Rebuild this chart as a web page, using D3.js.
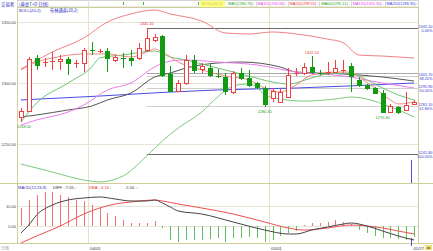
<!DOCTYPE html>
<html><head><meta charset="utf-8">
<script src="https://cdn.jsdelivr.net/npm/d3@7"></script>
<style>
html,body{margin:0;padding:0;background:#fff;overflow:hidden}
svg{display:block}
text{font-family:"Liberation Sans","DejaVu Sans",Arial,sans-serif}
.cjk{font-family:"Noto Sans CJK SC","Liberation Sans",sans-serif}
</style>
</head><body>
<svg id="c" width="433" height="251"></svg>
<script>
// ---------------- data ----------------
const opens  = [1272.1,1277.0,1320.5,1316.4,1317.6,1318.0,1319.7,1316.2,1316.4,1327.2,1326.0,1326.2,1318.9,1320.7,1320.5,1320.5,1327.0,1335.2,1338.5,1307.4,1293.4,1300.0,1318.9,1311.5,1312.3,1305.9,1304.9,1292.6,1308.2,1304.1,1300.0,1295.9,1287.7,1284.4,1288.5,1308.0,1308.2,1313.1,1308.4,1308.8,1309.0,1310.5,1313.9,1302.5,1298.4,1295.9,1291.8,1276.2,1280.3,1277.9,1282.8];
const highs  = [1279.5,1321.3,1323.0,1320.5,1325.4,1323.0,1321.3,1318.9,1328.7,1333.6,1327.9,1328.7,1323.0,1324.6,1327.0,1332.8,1345.1,1340.2,1339.3,1313.9,1302.5,1323.0,1323.0,1316.4,1316.4,1311.5,1308.2,1309.8,1312.3,1310.7,1300.8,1297.5,1295.9,1295.9,1312.3,1312.3,1316.4,1322.1,1310.7,1317.2,1318.9,1318.9,1316.4,1304.9,1299.2,1296.7,1294.3,1282.8,1281.1,1292.6,1286.1];
const lows   = [1268.0,1276.2,1310.7,1313.1,1310.7,1310.7,1306.6,1312.3,1309.0,1323.0,1324.6,1309.0,1317.2,1312.3,1313.9,1318.9,1325.4,1333.6,1304.9,1293.0,1293.0,1298.4,1308.2,1308.2,1304.9,1304.1,1290.2,1291.0,1302.5,1296.7,1295.1,1280.3,1284.4,1283.6,1287.7,1305.7,1306.6,1307.4,1306.6,1306.6,1308.2,1308.2,1292.6,1296.7,1294.3,1291.0,1275.4,1275.4,1274.6,1277.0,1282.0];
const closes = [1277.0,1319.7,1314.8,1317.2,1318.0,1319.7,1316.4,1316.4,1327.0,1326.8,1326.4,1320.5,1321.3,1320.3,1318.9,1328.7,1336.9,1337.7,1306.6,1293.4,1300.0,1318.9,1310.7,1313.9,1306.6,1305.5,1293.4,1308.2,1304.1,1298.4,1296.7,1282.8,1293.4,1292.6,1306.6,1308.2,1313.1,1309.0,1308.0,1309.0,1312.3,1310.7,1305.7,1298.4,1295.9,1291.8,1276.2,1281.1,1276.2,1282.0,1284.4];

// overlay lines (candle index, price)
const upperIdx = [0,4,8,11,14,17,19,23,26,29,32,35,39,41,43,46,50];
const upperVal = [1311.5,1325.4,1336.9,1350.0,1356.6,1359.8,1356.6,1350.8,1341.0,1340.2,1341.8,1340.2,1336.0,1333.0,1322.9,1322.1,1320.5];
const lowerIdx = [0,4,8,10,13,16,18,20,23,25,27,29,30,31,33,36,40,42,44,46,48,50];
const lowerVal = [1233.6,1227.0,1220.5,1218.9,1223.8,1240.2,1252.5,1263.1,1276.2,1288.5,1297.5,1299.2,1296.7,1290.2,1286.9,1285.2,1286.9,1288.5,1286.9,1282.8,1277.9,1272.1];
const redIdx = [0,2,4,8,11,14,16,17,18,20,23,26,29,31,33,35,37,40,42,43,45,47,48,50];
const redVal = [1310.7,1317.2,1320.5,1323.8,1323.8,1321.3,1325.4,1327.9,1325.4,1317.2,1310.7,1305.7,1302.5,1295.9,1292.6,1298.4,1306.6,1309.0,1309.0,1304.9,1295.9,1286.1,1282.8,1284.4];
const greenIdx = [0,2,6,9,10,13,17,19,21,24,27,29,32,34,37,39,42,44,46,48,50];
const greenVal = [1268.0,1283.6,1300.0,1313.1,1320.5,1323.0,1326.2,1321.3,1318.9,1313.9,1309.0,1305.7,1300.8,1299.2,1304.1,1307.4,1308.2,1302.5,1295.9,1290.2,1286.1];
const magentaIdx = [0,2,6,8,11,14,17,19,21,25,30,35,41,46,50];
const magentaVal = [1265.6,1269.7,1276.2,1282.0,1294.3,1300.0,1313.1,1318.0,1318.9,1317.2,1314.8,1309.0,1305.7,1300.0,1295.9];
const grayIdx = [0,2,6,9,11,14,17,19,21,25,28,33,35,41,46,50];
const grayVal = [1272.1,1273.8,1277.9,1281.1,1286.1,1291.8,1304.9,1308.2,1312.3,1316.4,1317.2,1313.1,1309.0,1307.4,1304.9,1301.6];
const blueIdx = [0,10,19,25,35,50];
const blueVal = [1286.1,1289.3,1292.6,1294.3,1295.9,1300.0];

// horizontal (golden section) levels drawn from the high candle
const goldStart = 16;
const goldLevels = [1345.1,1308.2,1305.7,1295.9,1281.1,1241.8];
const goldPct = ["0.00%","","38.20%","50.00%","61.80%","100.00%"];

// extreme marks
const markIdx = [0,16,31,37,46];
const markKind = ["low","high","low","high","low"];

// MACD
const hist = [9,13,15.5,17,17,15.5,14.5,13,12.5,10.5,9,6.5,5,3,1.5,1.5,1.5,2.5,-1,-7,-8,-7,-7,-7,-6.5,-6,-8,-6,-6,-5.5,-6,-8,-7,-5,-3.5,-2.5,0.5,1.5,1.5,2,3,2,1,-2,-3.5,-5,-6,-6,-6.5,-7,-5.5];
const diffIdx = [0,1,2,4,6,8,10,12,14,16,17,18,19,20,23,27,31,34,35,37,39,41,42,44,46,48,50];
const diffVal = [-3.5,0.5,5.5,10.5,13,14,14.5,13.5,12.5,12.5,13,11.5,9.5,7.5,6,2,-2,-4,-4,-2,-0.5,1,1.5,0,-2.5,-5,-7];
const deaIdx = [0,2,5,8,10,12,14,17,18,20,23,27,31,34,36,39,42,44,46,48,50];
const deaVal = [-8.5,-5,0,6,9,11,12,13,12.5,11,9,6,2,-1,-2,-1,0.5,0,-1,-2.5,-4];

// ticks / labels
const priceTicks = [1350,1300,1250];
const macdTicks = [10,0];
const dateTickIdx = [8.5,31.5];
const dateTickLabels = ["04/01","05/01"];
const lastDate = "05/27";
const legendNames = ["MA5","MA10","MA20","MA60","MA120","MA250"];
const legendValues = ["1290.76","1283.08","1299.55","1295.11","1305.30","1296.90"];
const legendArrows = ["↑","↓","↓","↓","↓","↑"];

// ---------------- layout ----------------
const svg = d3.select("#c");
const n = opens.length;
const plotL = 17, plotR = 418, mainT = 7, mainB = 183, macdT = 184, macdB = 243;
const x = d3.scaleLinear().domain([-0.5, n - 0.5]).range([plotL, plotR]);
const y = d3.scaleLinear().domain([1250, 1350]).range([144, 22]);
const ym = d3.scaleLinear().domain([0, 10]).range([226, 206]);
const RED = "#ee4040", GRN = "#139a13";

svg.append("rect").attr("width",433).attr("height",251).attr("fill","#fff");

const defs = svg.append("defs");
defs.append("clipPath").attr("id","cm").append("rect")
  .attr("x",plotL).attr("y",mainT).attr("width",plotR-plotL).attr("height",mainB-mainT);
defs.append("clipPath").attr("id","cd").append("rect")
  .attr("x",plotL).attr("y",macdT).attr("width",plotR-plotL).attr("height",macdB-macdT);

// header
svg.append("rect").attr("x",plotL+0.5).attr("y",0.5).attr("width",plotR-plotL).attr("height",6.5)
  .attr("fill","none").attr("stroke","#d4d4d4");
svg.append("text").attr("class","cjk").attr("x",1).attr("y",5.6).attr("font-size",4.4).attr("fill","#2a2ac0").text("交易者");
svg.append("text").attr("class","cjk").attr("x",19).attr("y",5.6).attr("font-size",4.4).attr("fill","#2a2ac0").text("(黄金T+D 日线)");
[13,15.5,22.5].forEach(k=>{
  svg.append("rect").attr("x",Math.round(x(k))).attr("y",2).attr("width",1).attr("height",3).attr("fill","#3cb43c");
});
svg.append("rect").attr("x",200).attr("y",0.5).attr("width",25).attr("height",6.5).attr("fill","#ffff80");
svg.append("text").attr("x",202).attr("y",5.4).attr("font-size",4).attr("fill","#c8c050").text("BOLL(20,2)");

// legend row (flowed, squeezed to fit before the right edge)
const legColors = ["#22a822","#e840e8","#ee3030","#22a822","#e840e8","#3a3ae0"];
const legG = svg.append("g");
let lx = 228;
legendNames.forEach((nm,k)=>{
  const t = legG.append("text").attr("x",lx).attr("y",5.3).attr("font-size",3.9).attr("fill",legColors[k])
    .text(nm+"("+legendValues[k]+")");
  lx += t.node().getComputedTextLength() + 0.4;
  const a = legG.append("text").attr("x",lx).attr("y",5.3).attr("font-size",3.9)
    .attr("fill",legendArrows[k]==="↑"?RED:GRN).text(legendArrows[k]);
  lx += a.node().getComputedTextLength() + 0.8;
  if (k < legendNames.length-1) {
    legG.append("rect").attr("x",Math.round(lx)).attr("y",1.5).attr("width",0.6).attr("height",4.5).attr("fill","#bbb");
    lx += 1.8;
  }
});
if (lx > 430) legG.attr("transform", `translate(228,0) scale(${(430-228)/(lx-228)},1) translate(-228,0)`);

// grid
const g = svg.append("g");
priceTicks.forEach(p=>{
  g.append("line").attr("x1",plotL).attr("x2",plotR).attr("y1",Math.round(y(p))+0.5).attr("y2",Math.round(y(p))+0.5)
   .attr("stroke","#e6e6d8");
  g.append("text").attr("x",16).attr("y",y(p)+1.5).attr("text-anchor","end").attr("font-size",4).attr("fill","#444")
   .text(p.toFixed(2));
});
macdTicks.forEach(v=>{
  g.append("line").attr("x1",plotL).attr("x2",plotR).attr("y1",Math.round(ym(v))+0.5).attr("y2",Math.round(ym(v))+0.5)
   .attr("stroke","#e6e6d8");
  g.append("text").attr("x",16).attr("y",ym(v)+1.5).attr("text-anchor","end").attr("font-size",4).attr("fill","#444")
   .text(v.toFixed(2));
});
dateTickIdx.forEach((k,j)=>{
  const xx = Math.round(x(k))+0.5;
  g.append("line").attr("x1",xx).attr("x2",xx).attr("y1",0).attr("y2",macdB).attr("stroke","#e4e4c8");
  g.append("text").attr("x",xx+1.5).attr("y",249.5).attr("font-size",4.3).attr("fill","#333").text(dateTickLabels[j]);
});
g.append("text").attr("x",plotR+6).attr("y",249.5).attr("text-anchor","end").attr("font-size",4.3).attr("fill","#333").text(lastDate);
g.append("rect").attr("x",425).attr("y",245).attr("width",7).attr("height",5).attr("fill","#f0e070");
g.append("text").attr("x",428.5).attr("y",249.3).attr("text-anchor","middle").attr("font-size",4).attr("fill","#555").text("◂▸");
g.append("text").attr("class","cjk").attr("x",1).attr("y",249.5).attr("font-size",4).attr("fill","#999").text("日线");

// panel borders
const bc = "#cfcf98";
[[0,mainB+0.5,433,mainB+0.5],[0,macdB+0.5,433,macdB+0.5],[plotL+0.5,mainT,plotL+0.5,macdB],[plotR+0.5,mainT,plotR+0.5,macdB],[plotL,mainT+0.5,plotR,mainT+0.5]]
 .forEach(d=>svg.append("line").attr("x1",d[0]).attr("y1",d[1]).attr("x2",d[2]).attr("y2",d[3]).attr("stroke",bc));

// sub-title in main panel
svg.append("text").attr("x",19).attr("y",12).attr("font-size",4.2).attr("fill","#2a2ac0").text("BOLL(20,2)");
svg.append("text").attr("class","cjk").attr("x",50).attr("y",12).attr("font-size",4.2).attr("fill","#2a2ac0").text("布林通道(20,2)");

// golden levels
const gl = svg.append("g");
goldLevels.forEach((p,k)=>{
  const yy = Math.round(y(p))+0.5;
  const dark = (k===0||k===goldLevels.length-1);
  gl.append("line").attr("x1",x(goldStart)).attr("x2",plotR).attr("y1",yy).attr("y2",yy)
    .attr("stroke", dark ? "#6a6a6a" : (k===1 ? "#a8a8a8" : "#cfcfcf"));
  if (goldPct[k]) {
    gl.append("text").attr("x",432.5).attr("y",yy-0.8).attr("text-anchor","end").attr("font-size",3.9).attr("fill","#3a3ad0").text(p.toFixed(2));
    gl.append("text").attr("x",432.5).attr("y",yy+3.6).attr("text-anchor","end").attr("font-size",3.9).attr("fill","#3a3ad0").text(goldPct[k]);
  }
});

// overlay lines
const main = svg.append("g").attr("clip-path","url(#cm)");
function drawLine(idx, vals, color, scale, parent, w){
  const pts = idx.map((k,j)=>[x(k), scale(vals[j])]);
  parent.append("path").attr("d", d3.line().curve(d3.curveMonotoneX)(pts))
    .attr("fill","none").attr("stroke",color).attr("stroke-width",w||1);
}
drawLine(blueIdx, blueVal, "#4a4ae6", y, main);
drawLine(grayIdx, grayVal, "#555", y, main);
drawLine(magentaIdx, magentaVal, "#ee7cee", y, main);
drawLine(upperIdx, upperVal, "#f08282", y, main);
drawLine(lowerIdx, lowerVal, "#7cca7c", y, main);
drawLine(greenIdx, greenVal, "#72c272", y, main);
drawLine(redIdx, redVal, "#f08a8a", y, main);

// candles
const cg = main.append("g");
for (let i=0;i<n;i++){
  const up = closes[i] >= opens[i];
  const col = up ? RED : GRN;
  const cx = Math.round(x(i));
  cg.append("line").attr("x1",cx+0.5).attr("x2",cx+0.5).attr("y1",y(highs[i])).attr("y2",y(lows[i])).attr("stroke",col);
  const top = y(Math.max(opens[i],closes[i])), bot = y(Math.min(opens[i],closes[i]));
  if (bot - top < 1.2) {
    cg.append("line").attr("x1",cx-2).attr("x2",cx+3).attr("y1",Math.round(top)+0.5).attr("y2",Math.round(top)+0.5).attr("stroke",col);
  } else if (up) {
    cg.append("rect").attr("x",cx-1.5).attr("y",Math.round(top)+0.5).attr("width",4).attr("height",Math.max(1,Math.round(bot-top)))
      .attr("fill","#fff").attr("stroke",col);
  } else {
    cg.append("rect").attr("x",cx-2).attr("y",Math.round(top)).attr("width",5).attr("height",Math.max(1,Math.round(bot-top)+1))
      .attr("fill",col);
  }
}

// extreme labels
markIdx.forEach((k,j)=>{
  const hi = markKind[j]==="high";
  const v = hi ? highs[k] : lows[k];
  const xx = Math.max(x(k), plotL+7);
  svg.append("text").attr("x",xx).attr("y", hi ? y(v)-2.5 : y(v)+6)
    .attr("text-anchor","middle").attr("font-size",3.9).attr("fill", hi ? "#e03030" : "#2a9a2a").text(v.toFixed(2));
});

// cursor
const cx2 = Math.round(x(n-1))-2.5;
svg.append("line").attr("x1",cx2).attr("x2",cx2).attr("y1",y(1237)).attr("y2",mainB).attr("stroke","#5050d8");
svg.append("line").attr("x1",cx2).attr("x2",cx2).attr("y1",ym(-6)).attr("y2",macdB+3).attr("stroke","#5050d8");

// MACD
const md = svg.append("g").attr("clip-path","url(#cd)");
hist.forEach((v,i)=>{
  const xx = Math.round(x(i))+0.5;
  md.append("line").attr("x1",xx).attr("x2",xx).attr("y1",ym(0)).attr("y2",ym(v))
    .attr("stroke", v>=0 ? "#f07272" : "#5cc25c");
});
drawLine(deaIdx, deaVal, "#ee5050", ym, md);
drawLine(diffIdx, diffVal, "#444", ym, md);

svg.append("text").attr("x",18).attr("y",189).attr("font-size",4.1).attr("fill","#3030c0").text("MACD(12,26,9)");
svg.append("text").attr("x",53).attr("y",189).attr("font-size",4.1).attr("fill","#333").text("DIFF: -7.05");
svg.append("text").attr("x",74).attr("y",189).attr("font-size",4.1).attr("fill",GRN).text("↓");
svg.append("text").attr("x",89).attr("y",189).attr("font-size",4.1).attr("fill","#ee3030").text("DEA: -4.10");
svg.append("text").attr("x",109).attr("y",189).attr("font-size",4.1).attr("fill",GRN).text("↓");
svg.append("text").attr("x",125).attr("y",189).attr("font-size",4.1).attr("fill","#333").text("-5.50");
svg.append("text").attr("x",136).attr("y",189).attr("font-size",4.1).attr("fill",RED).text("↑");
</script>
</body></html>
